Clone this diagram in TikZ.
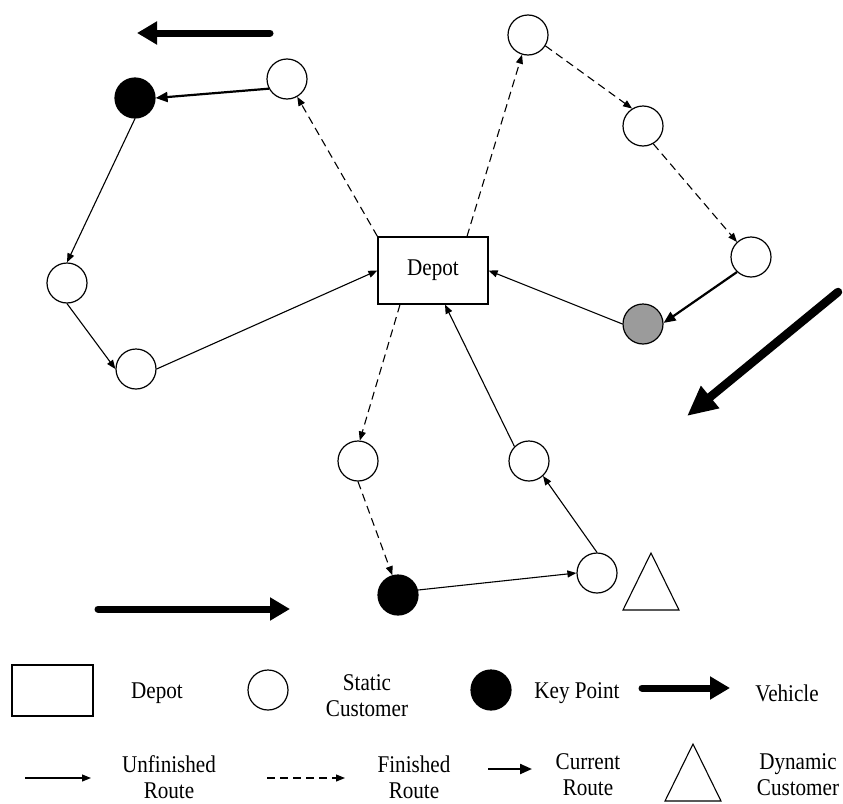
\documentclass[tikz,border=0pt]{standalone}
\usepackage{fontspec}
\setmainfont{Liberation Serif}[FakeStretch=0.88]
\usetikzlibrary{arrows.meta,calc}
\definecolor{keygray}{RGB}{155,155,155}
\tikzset{
 cust/.style={circle,draw,line width=1.2pt,minimum size=40pt,inner sep=0pt,fill=white},
 keypt/.style={cust,fill=black},
 graypt/.style={cust,fill=keygray},
 lbl/.style={align=center,font=\fontsize{24}{26}\selectfont,inner sep=0pt},
 depotbox/.style={draw,line width=1.2pt,minimum width=110pt,minimum height=67pt,inner sep=0pt,lbl},
 unfin/.style={line width=1.1pt,-{Triangle[length=9pt,width=7pt]}},
 fin/.style={unfin,dash pattern=on 8pt off 5pt},
 curr/.style={line width=2.2pt,-{Triangle[length=12pt,width=10pt]}},
 vehicle/.style={line width=7pt,line cap=round,-{Triangle[length=20pt,width=22pt]}},
 bigvehicle/.style={line width=8.5pt,line cap=round,-{Triangle[length=30pt,width=27pt]}},
 dyn/.style={line width=1.1pt,line join=miter},
}
\begin{document}
\begin{tikzpicture}[x=1pt,y=-1pt]
\useasboundingbox (0,0) rectangle (843,803);
% depot
\node[depotbox] (depot) at (433,270.5) {Depot};
% customers
\node[cust] (C1) at (287,79) {};
\node[keypt] (K1) at (135,98) {};
\node[cust] (C2) at (67,283) {};
\node[cust] (C3) at (136,369) {};
\node[cust] (C5) at (528,35) {};
\node[cust] (C6) at (643,126) {};
\node[cust] (C7) at (751,257) {};
\node[graypt] (G) at (643,324) {};
\node[cust] (C4) at (358,461) {};
\node[cust] (C8) at (529,461) {};
\node[keypt] (K2) at (398,595) {};
\node[cust] (C9) at (597,573) {};
% dynamic customer
\coordinate (T1a) at (651,553);
\coordinate (T1b) at (679,610);
\coordinate (T1c) at (623,610);
\draw[dyn] (T1a) -- (T1b) -- (T1c) -- cycle;
% route 1
\draw[fin] (depot.north west) -- (C1);
\draw[curr] (C1.208) -- (K1.east);
\draw[unfin] (K1.south) -- (C2.north);
\draw[unfin] (C2.south) -- (C3.west);
\draw[unfin] (C3.east) -- (depot.west);
% route 2
\draw[fin] ([xshift=34pt]depot.north) -- (C5);
\draw[fin] (C5.-32) -- (C6.122);
\draw[fin] (C6.-60) -- (C7.133);
\draw[curr] (C7.227) -- (G.3);
\draw[unfin] (G.west) -- (depot.east);
% route 3
\draw[fin] ([xshift=-33pt]depot.south) -- (C4.85);
\draw[fin] (C4.south) -- (K2.106);
\draw[unfin] (K2.14) -- (C9.west);
\draw[unfin] (C9.north) -- (C8.-47);
\draw[unfin] (C8.135) -- ([xshift=12pt]depot.south);
% vehicles
\coordinate (V1a) at (270,33);
\coordinate (V1b) at (137,33);
\draw[vehicle] (V1a) -- (V1b);
\coordinate (V2a) at (838,292);
\coordinate (V2b) at (687,416);
\draw[bigvehicle] (V2a) -- (V2b);
\coordinate (V3a) at (98,609);
\coordinate (V3b) at (290,609);
\draw[vehicle] (V3a) -- (V3b);
% legend row 1
\node[depotbox,minimum width=81pt,minimum height=51pt] (lgDepot) at (52.5,690.5) {};
\node[lbl] (lgDepotT) at (157,693) {Depot};
\node[cust] (lgCust) at (268,690) {};
\node[lbl] (lgCustT) at (367,696) {Static\\Customer};
\node[keypt] (lgKey) at (491,690) {};
\node[lbl] (lgKeyT) at (577,693) {Key Point};
\coordinate (lgVa) at (642,688);
\coordinate (lgVb) at (730,688);
\draw[vehicle] (lgVa) -- (lgVb);
\node[lbl] (lgVehT) at (787,693) {Vehicle};
% legend row 2
\coordinate (lgUa) at (25,778);
\coordinate (lgUb) at (91,778);
\draw[unfin] (lgUa) -- (lgUb);
\node[lbl] (lgUnT) at (169,777) {Unfinished\\Route};
\coordinate (lgFa) at (267,778);
\coordinate (lgFb) at (345,778);
\draw[fin] (lgFa) -- (lgFb);
\node[lbl] (lgFinT) at (414,777) {Finished\\Route};
\coordinate (lgCa) at (488,769);
\coordinate (lgCb) at (532,769);
\draw[curr] (lgCa) -- (lgCb);
\node[lbl] (lgCurT) at (588,775) {Current\\Route};
\coordinate (T2a) at (693,744);
\coordinate (T2b) at (721,801);
\coordinate (T2c) at (665,801);
\draw[dyn] (T2a) -- (T2b) -- (T2c) -- cycle;
\node[lbl] (lgDynT) at (798,775) {Dynamic\\Customer};
\end{tikzpicture}
\end{document}
